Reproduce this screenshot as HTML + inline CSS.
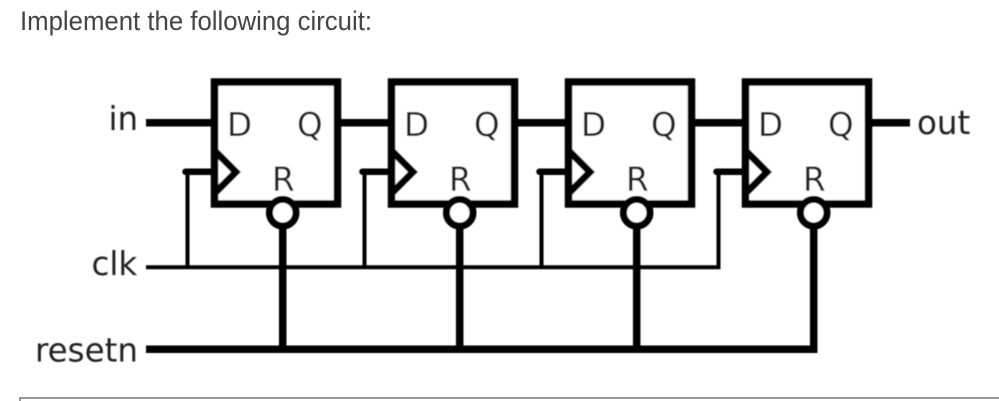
<!DOCTYPE html>
<html>
<head>
<meta charset="utf-8">
<style>
html,body{margin:0;padding:0;background:#fff;width:999px;height:401px;overflow:hidden}
svg{display:block;position:absolute;left:0;top:0}
</style>
</head>
<body>
<svg width="999" height="401" viewBox="0 0 999 401" xmlns="http://www.w3.org/2000/svg">
<defs>
<filter id="b" x="-5%" y="-5%" width="110%" height="110%"><feGaussianBlur stdDeviation="0.4"/></filter>
</defs>
<rect width="999" height="401" fill="#fff"/>
<text x="20" y="30" font-family="Liberation Sans, sans-serif" font-size="27" fill="#444" textLength="352" lengthAdjust="spacingAndGlyphs">Implement the following circuit:</text>
<g filter="url(#b)">
<g fill="none" stroke="#000" stroke-linecap="butt">
<!-- data -->
<path d="M146 122.7H211M340 122.7H388M517 122.7H565M694 122.7H742M871 122.7H910" stroke-width="7.5"/>
<!-- clk -->
<path d="M146 267.3H718.5V171.7M187.5 267.3V171.7M364.5 267.3V171.7M541.5 267.3V171.7" stroke-width="4"/>
<path d="M185.500 171.700H212M362.500 171.700H389M539.500 171.700H566M716.500 171.700H743" stroke-width="6.500" stroke-linecap="round"/>
<!-- reset -->
<path d="M146 349.3H813.7V226M282.7 349.3V226M459.7 349.3V226M636.7 349.3V226" stroke-width="7.500"/>
<!-- flops -->
<g stroke-width="7.500" fill="#fff">
<rect x="214.500" y="82" width="123" height="122"/>
<rect x="391.500" y="82" width="123" height="122"/>
<rect x="568.500" y="82" width="123" height="122"/>
<rect x="745.500" y="82" width="123" height="122"/>
</g>
<g stroke-width="7">
<path d="M215 151L236 172L215 193"/>
<path d="M392 151L413 172L392 193"/>
<path d="M569 151L590 172L569 193"/>
<path d="M746 151L767 172L746 193"/>
</g>
<g stroke-width="7" fill="#fff">
<circle cx="282.7" cy="212.7" r="13.300"/>
<circle cx="459.7" cy="212.7" r="13.300"/>
<circle cx="636.7" cy="212.7" r="13.300"/>
<circle cx="813.7" cy="212.7" r="13.300"/>
</g>
</g>
<g font-family="DejaVu Sans, sans-serif" font-size="32.500" fill="#222">
<text x="108.500" y="130">in</text>
<text x="91.500" y="275">clk</text>
<text x="35" y="361.500">resetn</text>
<text x="917" y="134">out</text>
<text x="227" y="136">D</text><text x="297" y="136">Q</text><text x="272" y="190.500">R</text>
<text x="404" y="136">D</text><text x="474" y="136">Q</text><text x="449" y="190.500">R</text>
<text x="581" y="136">D</text><text x="651" y="136">Q</text><text x="626" y="190.500">R</text>
<text x="758" y="136">D</text><text x="828" y="136">Q</text><text x="803" y="190.500">R</text>
</g>
</g>
<path d="M20 401V398H999" fill="none" stroke="#999" stroke-width="2"/>
</svg>
</body>
</html>
